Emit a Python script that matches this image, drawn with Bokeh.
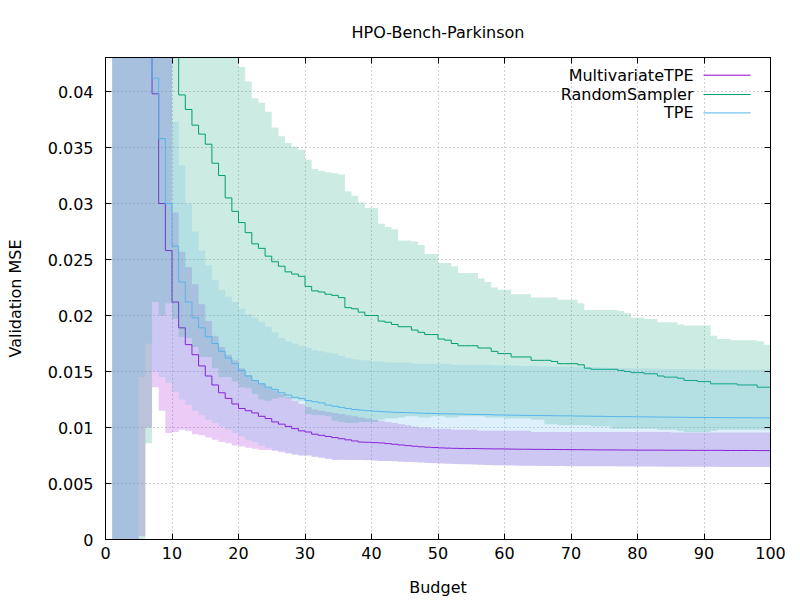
from bokeh.plotting import figure
from bokeh.models import (Range1d, LinearAxis, FixedTicker, CustomJSTickFormatter,
                          Label, Arrow, ColumnDataSource)
from bokeh.embed import file_html
from bokeh.resources import INLINE

title_text = "HPO-Bench-Parkinson"
series_names = ["MultivariateTPE", "RandomSampler", "TPE"]
series_colors = ["#9400d3", "#009e73", "#56b4e9"]

budget = list(range(1, 101))

mtpe_mean = [0.090, 0.085, 0.075, 0.068, 0.060, 0.050, 0.0398, 0.0300, 0.0258, 0.0212,
             0.0189, 0.0174, 0.0165, 0.0155, 0.0146, 0.0138, 0.0131, 0.0126, 0.0121, 0.0117,
             0.0115, 0.0113, 0.0110, 0.0108, 0.0105, 0.0103, 0.0101, 0.0099, 0.0097, 0.0096,
             0.0094, 0.0093, 0.0092, 0.0091, 0.0090, 0.0089, 0.0088, 0.0087, 0.00868, 0.00865,
             0.00862, 0.00856, 0.0085, 0.00844, 0.00838, 0.00833, 0.00828, 0.00824, 0.00821, 0.00818,
             0.00816, 0.00814, 0.00813, 0.00812, 0.00812, 0.00811, 0.0081, 0.00809, 0.00809, 0.00808,
             0.00807, 0.00806, 0.00806, 0.00805, 0.00805, 0.00804, 0.00804, 0.00803, 0.00803, 0.00802,
             0.00802, 0.00801, 0.00801, 0.008, 0.008, 0.008, 0.00799, 0.00799, 0.00799, 0.00798,
             0.00798, 0.00798, 0.00798, 0.00797, 0.00797, 0.00797, 0.00797, 0.00796, 0.00796, 0.00796,
             0.00796, 0.00796, 0.00795, 0.00795, 0.00795, 0.00795, 0.00795, 0.00794, 0.00794, 0.00794]
mtpe_hi = [0.11, 0.10, 0.095, 0.09, 0.085, 0.075, 0.065, 0.055, 0.047, 0.0292,
           0.0257, 0.0243, 0.0228, 0.0210, 0.0195, 0.0182, 0.0172, 0.0165, 0.0160, 0.0153,
           0.0147, 0.0142, 0.0139, 0.0136, 0.0133, 0.0130, 0.0127, 0.0124, 0.0121, 0.0118,
           0.0116, 0.0115, 0.0114, 0.0113, 0.0112, 0.0111, 0.0110, 0.0109, 0.0108, 0.0107,
           0.0106, 0.0105, 0.0104, 0.0103, 0.0102, 0.0101, 0.0100, 0.0100, 0.0099, 0.0099,
           0.0099, 0.0098, 0.0098, 0.0098, 0.0098, 0.0097, 0.0097, 0.0097, 0.0097, 0.0097,
           0.0097, 0.0097, 0.0097, 0.0096, 0.0096, 0.0096, 0.0096, 0.0096, 0.0096, 0.0096,
           0.0096, 0.0096, 0.0096, 0.0096, 0.0096, 0.0096, 0.0096, 0.0096, 0.0096, 0.0096,
           0.0096, 0.0096, 0.0096, 0.0096, 0.00955, 0.00955, 0.00955, 0.00955, 0.00955, 0.00955,
           0.00955, 0.00955, 0.00955, 0.00955, 0.00955, 0.00955, 0.00955, 0.00955, 0.00955, 0.00955]
mtpe_lo = [-0.02, -0.018, -0.015, -0.012, 0.0003, 0.0100, 0.0136, 0.0115, 0.0095, 0.0096,
           0.0098, 0.0097, 0.0094, 0.0093, 0.0091, 0.0089, 0.0087, 0.0086, 0.0084, 0.0083,
           0.0082, 0.0081, 0.0080, 0.0080, 0.0079, 0.0078, 0.0077, 0.0076, 0.0075, 0.0075,
           0.0074, 0.0073, 0.0072, 0.0071, 0.00712, 0.00711, 0.0071, 0.00709, 0.00708, 0.00705,
           0.00702, 0.007, 0.00698, 0.00695, 0.00693, 0.0069, 0.00687, 0.00684, 0.00681, 0.00679,
           0.00677, 0.00675, 0.00673, 0.00671, 0.00669, 0.00667, 0.00665, 0.00663, 0.00662, 0.00661,
           0.0066, 0.00659, 0.00658, 0.00658, 0.00657, 0.00657, 0.00656, 0.00656, 0.00655, 0.00655,
           0.00654, 0.00654, 0.00654, 0.00653, 0.00653, 0.00653, 0.00652, 0.00652, 0.00652, 0.00651,
           0.00651, 0.00651, 0.0065, 0.0065, 0.0065, 0.0065, 0.00649, 0.00649, 0.00649, 0.00649,
           0.00649, 0.00648, 0.00648, 0.00648, 0.00648, 0.00648, 0.00648, 0.00648, 0.00648, 0.00648]

rs_mean = [0.20, 0.15, 0.12, 0.10, 0.085, 0.075, 0.065, 0.058, 0.050, 0.045,
           0.0397, 0.0384, 0.0370, 0.0362, 0.0353, 0.0336, 0.0325, 0.0305, 0.0293, 0.0283,
           0.0274, 0.0264, 0.0260, 0.0253, 0.0248, 0.0244, 0.0239, 0.0237, 0.0235, 0.0226,
           0.0222, 0.0221, 0.0219, 0.0218, 0.0216, 0.0207, 0.0206, 0.0203, 0.0200, 0.0200,
           0.0195, 0.0194, 0.0192, 0.0190, 0.0190, 0.0187, 0.0185, 0.0183, 0.0183, 0.0179,
           0.0178, 0.0175, 0.0173, 0.0173, 0.0173, 0.0171, 0.0171, 0.0168, 0.0166, 0.0166,
           0.0163, 0.0163, 0.0163, 0.0160, 0.0160, 0.0160, 0.0159, 0.0157, 0.0157, 0.0157,
           0.0156, 0.0153, 0.0152, 0.0152, 0.0152, 0.0152, 0.0151, 0.0150, 0.0149, 0.0149,
           0.0148, 0.0148, 0.0146, 0.0145, 0.0145, 0.0144, 0.0142, 0.0142, 0.0141, 0.0141,
           0.0139, 0.0139, 0.0139, 0.0139, 0.0138, 0.0138, 0.0138, 0.0136, 0.0136, 0.0136]
rs_hi = [0.30, 0.25, 0.20, 0.17, 0.15, 0.13, 0.11, 0.10, 0.09, 0.08,
         0.07, 0.065, 0.06, 0.057, 0.054, 0.051, 0.048, 0.046, 0.044, 0.0422,
         0.0409, 0.0394, 0.0390, 0.0382, 0.0368, 0.0360, 0.0354, 0.0351, 0.0348, 0.0339,
         0.0331, 0.0329, 0.0328, 0.0327, 0.0326, 0.0311, 0.0307, 0.0301, 0.0296, 0.0296,
         0.0282, 0.0279, 0.0277, 0.0267, 0.0267, 0.0266, 0.0263, 0.0255, 0.0255, 0.0247,
         0.0247, 0.0244, 0.0238, 0.0238, 0.0238, 0.0233, 0.0230, 0.0225, 0.0223, 0.0223,
         0.0219, 0.0219, 0.0219, 0.0216, 0.0216, 0.0216, 0.0216, 0.0214, 0.0214, 0.0214,
         0.0211, 0.0205, 0.0205, 0.0205, 0.0205, 0.0205, 0.0204, 0.0202, 0.0198, 0.0198,
         0.0197, 0.0197, 0.0194, 0.0194, 0.0194, 0.0192, 0.0191, 0.0191, 0.0191, 0.0191,
         0.0182, 0.0179, 0.0179, 0.0178, 0.0178, 0.0178, 0.0178, 0.0177, 0.0174, 0.0174]
rs_lo = [-0.03, -0.025, -0.02, -0.015, -0.005, 0.0086, 0.0212, 0.0200, 0.0211, 0.0197,
         0.0181, 0.0180, 0.0172, 0.0163, 0.0163, 0.0153, 0.0145, 0.0145, 0.0141, 0.0136,
         0.0135, 0.0130, 0.0125, 0.0124, 0.0126, 0.0127, 0.0126, 0.0125, 0.0124, 0.0112,
         0.0111, 0.0111, 0.0110, 0.0106, 0.0105, 0.0104, 0.0104, 0.0105, 0.0105, 0.0105,
         0.0107, 0.0108, 0.0108, 0.0109, 0.0110, 0.0110, 0.0109, 0.0109, 0.0110, 0.0110,
         0.0109, 0.0109, 0.0110, 0.0110, 0.0110, 0.0110, 0.0109, 0.0109, 0.0109, 0.0108,
         0.0108, 0.0108, 0.0108, 0.0107, 0.0107, 0.0103, 0.0103, 0.0102, 0.0102, 0.0102,
         0.0102, 0.0102, 0.0101, 0.0101, 0.0101, 0.0099, 0.0099, 0.0099, 0.0099, 0.0099,
         0.0099, 0.0099, 0.0098, 0.0098, 0.0098, 0.0097, 0.0096, 0.0096, 0.0096, 0.0096,
         0.0097, 0.0098, 0.0098, 0.0098, 0.0098, 0.0098, 0.0098, 0.0098, 0.0098, 0.0098]

tpe_mean = [0.095, 0.088, 0.08, 0.07, 0.062, 0.052, 0.0412, 0.0358, 0.0300, 0.0262,
            0.0230, 0.0212, 0.0198, 0.0189, 0.0181, 0.0175, 0.0168, 0.0162, 0.0157, 0.0151,
            0.0146, 0.0142, 0.0139, 0.0136, 0.0134, 0.0131, 0.0129, 0.0127, 0.0126, 0.0124,
            0.0123, 0.0122, 0.0120, 0.0119, 0.0118, 0.0117, 0.0116, 0.01155, 0.0115, 0.01146,
            0.01142, 0.01139, 0.01136, 0.01134, 0.01132, 0.0113, 0.01128, 0.01126, 0.01125, 0.01123,
            0.01122, 0.01121, 0.0112, 0.01118, 0.01117, 0.01116, 0.01115, 0.01113, 0.01112, 0.01111,
            0.0111, 0.01109, 0.01108, 0.01108, 0.01107, 0.01106, 0.01105, 0.01104, 0.01104, 0.01103,
            0.01102, 0.01101, 0.011, 0.011, 0.01099, 0.01098, 0.01097, 0.01097, 0.01096, 0.01095,
            0.01095, 0.01094, 0.01093, 0.01093, 0.01092, 0.01092, 0.01091, 0.0109, 0.0109, 0.01089,
            0.01089, 0.01088, 0.01088, 0.01087, 0.01087, 0.01087, 0.01086, 0.01086, 0.01086, 0.01085]
tpe_hi = [0.12, 0.11, 0.10, 0.095, 0.09, 0.08, 0.07, 0.06, 0.05, 0.0373,
          0.0334, 0.0300, 0.0275, 0.0258, 0.0245, 0.0232, 0.0223, 0.0217, 0.0212, 0.0206,
          0.0201, 0.0198, 0.0194, 0.0190, 0.0185, 0.0180, 0.0177, 0.0175, 0.0173, 0.0171,
          0.0169, 0.0168, 0.0167, 0.0166, 0.0164, 0.0162, 0.0161, 0.0160, 0.0160, 0.0159,
          0.0159, 0.0158, 0.0158, 0.0158, 0.0158, 0.0157, 0.0157, 0.0157, 0.0157, 0.0157,
          0.0157, 0.0156, 0.0156, 0.0156, 0.0156, 0.0156, 0.0156, 0.01556, 0.01555, 0.01555,
          0.01553, 0.0155, 0.0155, 0.0155, 0.01548, 0.01546, 0.01545, 0.01544, 0.01542, 0.0154,
          0.0154, 0.01538, 0.01537, 0.01535, 0.01534, 0.01532, 0.0153, 0.0153, 0.01528, 0.01527,
          0.01527, 0.01526, 0.01525, 0.01524, 0.01523, 0.01522, 0.01522, 0.01521, 0.0152, 0.0152,
          0.0152, 0.01519, 0.01519, 0.01518, 0.01518, 0.01518, 0.01518, 0.01517, 0.01517, 0.01517]
tpe_lo = [-0.02, -0.018, -0.015, -0.012, 0.0145, 0.0175, 0.0150, 0.0145, 0.0140, 0.0132,
          0.0125, 0.0120, 0.0115, 0.0111, 0.0107, 0.0104, 0.0101, 0.0098, 0.0095, 0.0092,
          0.0089, 0.0087, 0.0084, 0.0082, 0.0080, 0.0079, 0.0077, 0.0076, 0.0075, 0.0075,
          0.0074, 0.00732, 0.00722, 0.00712, 0.00713, 0.00712, 0.00711, 0.0071, 0.00709, 0.00706,
          0.00703, 0.00701, 0.00699, 0.00696, 0.00694, 0.00691, 0.00688, 0.00685, 0.00682, 0.0068,
          0.00678, 0.00676, 0.00674, 0.00672, 0.0067, 0.00668, 0.00666, 0.00664, 0.00663, 0.00662,
          0.00661, 0.0066, 0.00659, 0.00659, 0.00658, 0.00658, 0.00657, 0.00657, 0.00656, 0.00656,
          0.00655, 0.00655, 0.00655, 0.00654, 0.00654, 0.00654, 0.00653, 0.00653, 0.00653, 0.00652,
          0.00652, 0.00652, 0.00651, 0.00651, 0.00651, 0.00651, 0.0065, 0.0065, 0.0065, 0.0065,
          0.0065, 0.00649, 0.00649, 0.00649, 0.00649, 0.00649, 0.00649, 0.00649, 0.00649, 0.00649]

x_ticks = [0, 10, 20, 30, 40, 50, 60, 70, 80, 90, 100]
y_ticks = [0, 0.005, 0.01, 0.015, 0.02, 0.025, 0.03, 0.035, 0.04]

FONT = "DejaVu Sans"
FS = "16px"

p = figure(width=800, height=600, output_backend="svg", toolbar_location=None,
           x_range=Range1d(0, 100), y_range=Range1d(0, 0.04304),
           min_border_left=105, min_border_right=30, min_border_top=57, min_border_bottom=61,
           title=title_text)
p.background_fill_color = "white"
p.border_fill_color = "white"
p.outline_line_color = "black"
p.outline_line_alpha = 1
p.outline_line_width = 1

p.title.align = "center"
p.title.text_font = FONT
p.title.text_font_size = FS
p.title.text_font_style = "normal"
p.title.text_color = "black"
p.title.standoff = 32

fmt_y = CustomJSTickFormatter(code="return String(parseFloat(tick.toFixed(4)));")

for ax in (p.xaxis[0], p.yaxis[0]):
    ax.major_tick_in = 6
    ax.major_tick_out = 0
    ax.minor_tick_in = 0
    ax.minor_tick_out = 0
    ax.axis_line_color = "black"
    ax.major_tick_line_color = "black"
    ax.major_label_text_font = FONT
    ax.major_label_text_font_size = FS
    ax.major_label_text_color = "black"
    ax.axis_label_text_font = FONT
    ax.axis_label_text_font_size = FS
    ax.axis_label_text_font_style = "normal"
    ax.axis_label_text_color = "black"

p.xaxis.ticker = FixedTicker(ticks=x_ticks)
p.yaxis.ticker = FixedTicker(ticks=y_ticks)
p.yaxis.formatter = fmt_y
p.xaxis.axis_label = "Budget"
p.yaxis.axis_label = "Validation MSE"
p.xaxis.major_label_standoff = 7
p.yaxis.major_label_standoff = 12
p.xaxis.axis_label_standoff = 16
p.yaxis.axis_label_standoff = 20

blank = CustomJSTickFormatter(code="return '';")
for loc, tk in (("above", x_ticks), ("right", y_ticks)):
    ax = LinearAxis(ticker=FixedTicker(ticks=tk), formatter=blank, major_tick_in=6, major_tick_out=0,
                    minor_tick_in=0, minor_tick_out=0, axis_line_color="black",
                    major_label_text_font_size="1px", major_label_text_color=None,
                    major_label_standoff=0)
    p.add_layout(ax, loc)

p.xgrid.ticker = FixedTicker(ticks=x_ticks)
p.ygrid.ticker = FixedTicker(ticks=y_ticks)
for g in (p.xgrid[0], p.ygrid[0]):
    g.grid_line_color = "#a8a8a8"
    g.grid_line_dash = "1 3"
    g.grid_line_alpha = 1
    g.grid_line_width = 1

src = ColumnDataSource(dict(budget=budget,
                            mtpe_mean=mtpe_mean, mtpe_hi=mtpe_hi, mtpe_lo=mtpe_lo,
                            rs_mean=rs_mean, rs_hi=rs_hi, rs_lo=rs_lo,
                            tpe_mean=tpe_mean, tpe_hi=tpe_hi, tpe_lo=tpe_lo))

keys = ["mtpe", "rs", "tpe"]
for k, c in zip(keys, series_colors):
    p.varea_step(x="budget", y1=k + "_lo", y2=k + "_hi", step_mode="after", source=src,
                 fill_color=c, fill_alpha=0.2)
    p.step(x="budget", y=k + "_mean", mode="after", source=src, line_color=c, line_width=1)

# legend (gnuplot style: text right, sample line to the right)
rows_y = [464.3, 445.0, 426.6]
for name, c, yy in zip(series_names, series_colors, rows_y):
    p.add_layout(Label(x=588, y=yy, x_units="screen", y_units="screen", text=name,
                       text_align="right", text_baseline="middle", text_font=FONT,
                       text_font_size=FS, text_color="black"))
    p.add_layout(Arrow(end=None, x_start=598, y_start=yy, x_end=645, y_end=yy,
                       start_units="screen", end_units="screen", line_color=c, line_width=1))

open("out.html", "w").write(file_html(p, INLINE))
